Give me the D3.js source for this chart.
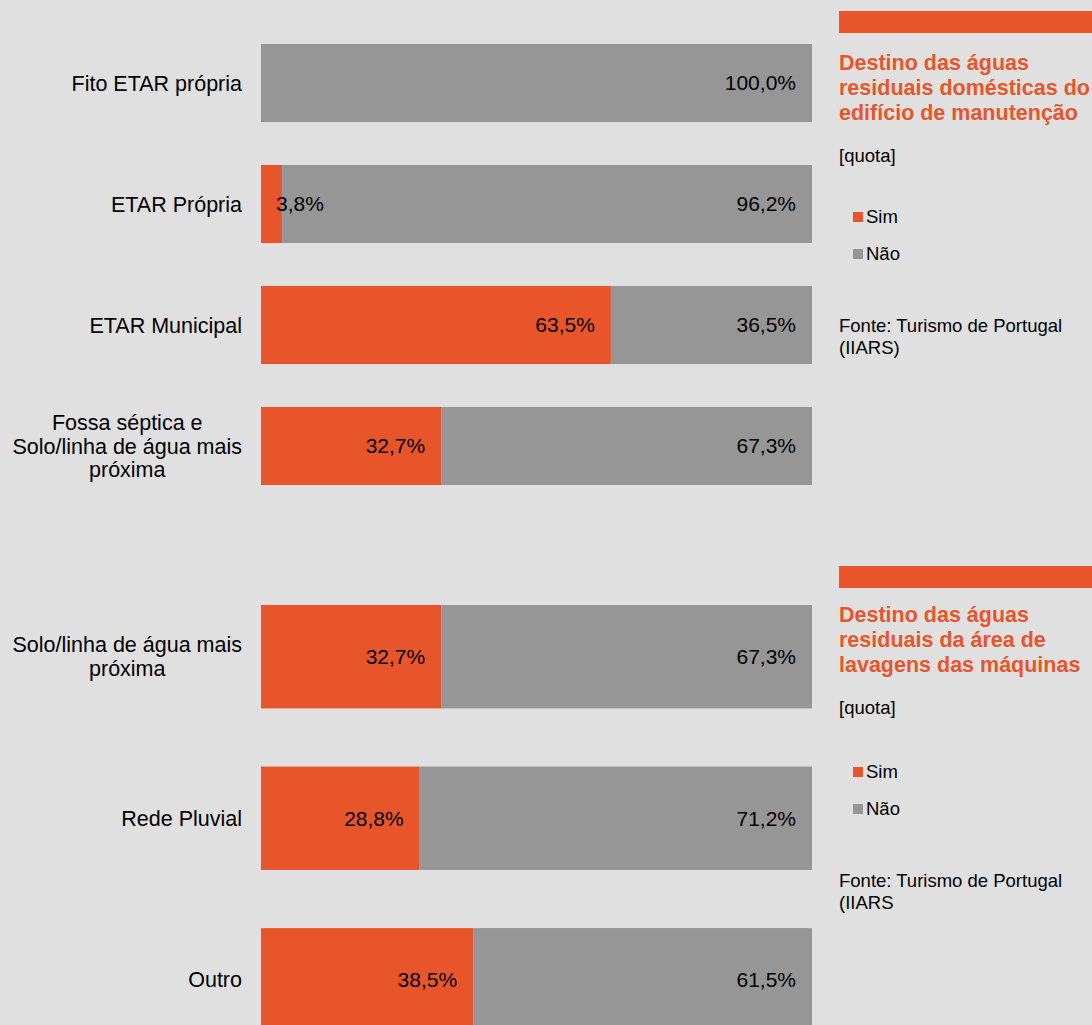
<!DOCTYPE html>
<html>
<head>
<meta charset="utf-8">
<script src="https://cdn.jsdelivr.net/npm/d3@7"></script>
<style>
  body { margin: 0; background: #e0e0e0; }
  svg { display: block; font-family: "Liberation Sans", Arial, sans-serif; }
  .cat { font-size: 21.5px; fill: #000; }
  .val { font-size: 21px; fill: #000; }
  .title { font-size: 21.5px; font-weight: bold; fill: #e9552a; }
  .note { font-size: 18.5px; fill: #000; }
</style>
</head>
<body>
<svg width="1092" height="1025"></svg>
<script>
// chart 1: destino das águas residuais domésticas
var cats1 = [["Fito ETAR própria"], ["ETAR Própria"], ["ETAR Municipal"],
             ["Fossa séptica e", "Solo/linha de água mais", "próxima"]];
var sim1 = [0, 3.8, 63.5, 32.7];
var nao1 = [100, 96.2, 36.5, 67.3];

// chart 2: área de lavagens das máquinas
var cats2 = [["Solo/linha de água mais", "próxima"], ["Rede Pluvial"], ["Outro"]];
var sim2 = [32.7, 28.8, 38.5];
var nao2 = [67.3, 71.2, 61.5];

var series = ["Sim", "Não"];
var colors = ["#e9552a", "#969696"];

var title1 = ["Destino das águas", "residuais domésticas do", "edifício de manutenção"];
var title2 = ["Destino das águas", "residuais da área de", "lavagens das máquinas"];
var fonte1 = ["Fonte: Turismo de Portugal", "(IIARS)"];
var fonte2 = ["Fonte: Turismo de Portugal", "(IIARS"];

var svg = d3.select("svg");
var fmt = function(v){ return d3.format(".1f")(v).replace(".", ",") + "%"; };

var x = d3.scaleLinear().domain([0, 100]).range([261, 812]);
var color = d3.scaleOrdinal().domain(series).range(colors);

function drawBars(cats, sim, nao, y0, y1, pad) {
  var rows = cats.map(function(c, i){ return {key: c.join(" "), lines: c, sim: sim[i], nao: nao[i]}; });
  var y = d3.scaleBand().domain(rows.map(function(d){ return d.key; }))
      .range([y0, y1]).paddingInner(pad).paddingOuter(0);
  var stack = d3.stack().keys(["sim", "nao"])(rows);

  var g = svg.append("g");
  g.selectAll("g.layer").data(stack).enter().append("g")
      .attr("fill", function(d, i){ return colors[i]; })
    .selectAll("rect").data(function(d){ return d; }).enter().append("rect")
      .attr("x", function(d){ return x(d[0]); })
      .attr("y", function(d){ return y(d.data.key); })
      .attr("width", function(d){ return x(d[1]) - x(d[0]); })
      .attr("height", y.bandwidth());

  // value labels, inside end
  stack.forEach(function(layer){
    layer.forEach(function(d){
      if (d[1] - d[0] <= 0) return;
      var t = g.append("text").attr("class", "val")
          .attr("y", y(d.data.key) + y.bandwidth() / 2)
          .attr("dy", "0.35em")
          .attr("text-anchor", "end")
          .text(fmt(d[1] - d[0]));
      var w = t.node().getComputedTextLength();
      var right = Math.max(x(d[1]) - 16, x(d[0]) + 15 + w);
      t.attr("x", right);
    });
  });

  // category labels
  rows.forEach(function(d){
    var t = g.append("text").attr("class", "cat").attr("text-anchor", "middle");
    var n = d.lines.length, lh = 23.5;
    var cy = y(d.key) + y.bandwidth() / 2;
    d.lines.forEach(function(l, i){
      t.append("tspan").attr("y", cy + (i - (n - 1) / 2) * lh).attr("dy", "0.35em").text(l);
    });
    var w = 0;
    t.selectAll("tspan").each(function(){ w = Math.max(w, this.getComputedTextLength()); });
    t.selectAll("tspan").attr("x", 242 - w / 2);
  });
}

function drawSide(top, title, fonte, shift) {
  var g = svg.append("g");
  g.append("rect").attr("x", 839).attr("y", top).attr("width", 253).attr("height", 22)
      .attr("fill", colors[0]);
  title.forEach(function(l, i){
    g.append("text").attr("class", "title").attr("x", 839).attr("y", top + 59 + shift + i * 25).text(l);
  });
  g.append("text").attr("class", "note").attr("x", 839).attr("y", top + 151 + shift).text("[quota]");
  series.forEach(function(s, i){
    var yy = top + 206 + i * 37;
    g.append("rect").attr("x", 853).attr("y", yy - 5).attr("width", 10).attr("height", 10)
        .attr("fill", color(s));
    g.append("text").attr("class", "note").attr("x", 866).attr("y", yy).attr("dy", "0.35em").text(s);
  });
  fonte.forEach(function(l, i){
    g.append("text").attr("class", "note").attr("x", 839).attr("y", top + 321 + i * 22).text(l);
  });
}

drawBars(cats1, sim1, nao1, 44, 485, 0.355);
drawBars(cats2, sim2, nao2, 605, 1031.5, 0.36);
drawSide(11, title1, fonte1, 0);
drawSide(566, title2, fonte2, -3);
</script>
</body>
</html>
